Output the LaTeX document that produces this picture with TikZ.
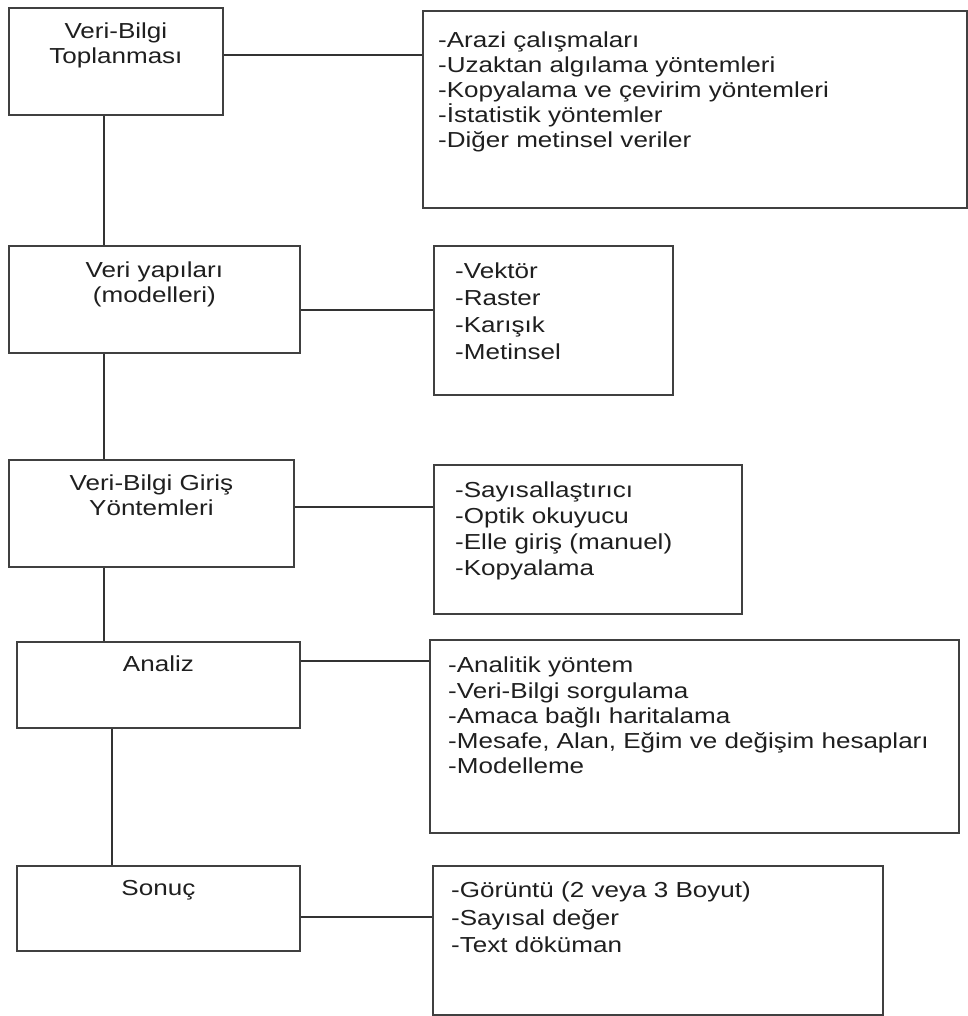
\documentclass[tikz,border=0pt]{standalone}
\usepackage{fontspec}
\setmainfont{Liberation Sans}[FakeStretch=1.2]
\usetikzlibrary{calc}
\usetikzlibrary{positioning}

\begin{document}
\begin{tikzpicture}[x=1pt, y=-1pt,
        kutu/.style={rectangle, draw=black!75, line width=1.8pt, anchor=north west, inner sep=0pt},
        baslik/.style={anchor=north, inner sep=0pt, align=center, text=black!88, font=\fontsize{21.7}{25}\selectfont},
        liste/.style={anchor=north west, inner sep=0pt, align=left, text=black!88, font=\fontsize{21.7}{26}\selectfont},
        cizgi/.style={draw=black!80, line width=1.8pt}]
        \fill[white] (0,0) rectangle (967,1016);
        \useasboundingbox (0,0) rectangle (967,1016);

        % sol kutular
        \node[kutu, minimum width=214pt, minimum height=107pt] (b1) at (8,7) {};
        \node[kutu, minimum width=291pt, minimum height=107pt] (b2) at (8,245) {};
        \node[kutu, minimum width=285pt, minimum height=107pt] (b3) at (8,459) {};
        \node[kutu, minimum width=283pt, minimum height=86pt] (b4) at (16,641) {};
        \node[kutu, minimum width=283pt, minimum height=85pt] (b5) at (16,865) {};

        \node[baslik] (t1) [below=16pt of b1.north] {Veri-Bilgi\\Toplanması};
        \node[baslik] (t2) [below=17pt of b2.north] {Veri yapıları\\(modelleri)};
        \node[baslik] (t3) [below=16pt of b3.north] {Veri-Bilgi Giriş\\Yöntemleri};
        \node[baslik] (t4) [below=15pt of b4.north] {Analiz};
        \node[baslik] (t5) [below=15pt of b5.north] {Sonuç};

        % sag kutular
        \node[kutu, minimum width=544pt, minimum height=197pt] (r1) at (422,10) {};
        \node[kutu, minimum width=239pt, minimum height=149pt] (r2) at (433,245) {};
        \node[kutu, minimum width=308pt, minimum height=149pt] (r3) at (433,464) {};
        \node[kutu, minimum width=529pt, minimum height=193pt] (r4) at (429,639) {};
        \node[kutu, minimum width=450pt, minimum height=149pt] (r5) at (432,865) {};

        \node[liste, font=\fontsize{21.7}{25}\selectfont] (l1) [below right=22pt and 16pt of r1.north west]
            {-Arazi çalışmaları\\-Uzaktan algılama yöntemleri\\-Kopyalama ve çevirim yöntemleri\\-İstatistik yöntemler\\-Diğer metinsel veriler};
        \node[liste, font=\fontsize{21.7}{26.7}\selectfont] (l2) [below right=18pt and 22pt of r2.north west]
            {-Vektör\\-Raster\\-Karışık\\-Metinsel};
        \node[liste] (l3) [below right=18pt and 22pt of r3.north west]
            {-Sayısallaştırıcı\\-Optik okuyucu\\-Elle giriş (manuel)\\-Kopyalama};
        \node[liste, font=\fontsize{21.7}{25.2}\selectfont] (l4) [below right=18pt and 19pt of r4.north west]
            {-Analitik yöntem\\-Veri-Bilgi sorgulama\\-Amaca bağlı haritalama\\-Mesafe, Alan, Eğim ve değişim hesapları\\-Modelleme};
        \node[liste, font=\fontsize{21.7}{27.5}\selectfont] (l5) [below right=17pt and 19pt of r5.north west]
            {-Görüntü (2 veya 3 Boyut)\\-Sayısal değer\\-Text döküman};

        % yatay baglantilar
        \coordinate (c1) at ([yshift=6.5pt]b1.east);
        \coordinate (c2) at ([yshift=-10.5pt]b2.east);
        \coordinate (c3) at ([yshift=6.5pt]b3.east);
        \coordinate (c4) at ([yshift=24pt]b4.east);
        \coordinate (c5) at ([yshift=-8.5pt]b5.east);
        \draw[cizgi] (c1) -- (c1 -| r1.west);
        \draw[cizgi] (c2) -- (c2 -| r2.west);
        \draw[cizgi] (c3) -- (c3 -| r3.west);
        \draw[cizgi] (c4) -- (c4 -| r4.west);
        \draw[cizgi] (c5) -- (c5 -| r5.west);

        % dikey baglantilar
        \coordinate (d1) at ([xshift=-12pt]b1.south);
        \coordinate (d2) at ([xshift=-50.5pt]b2.south);
        \coordinate (d3) at ([xshift=-47.5pt]b3.south);
        \coordinate (d4) at ([xshift=-46.5pt]b4.south);
        \draw[cizgi] (d1) -- (d1 |- b2.north);
        \draw[cizgi] (d2) -- (d2 |- b3.north);
        \draw[cizgi] (d3) -- (d3 |- b4.north);
        \draw[cizgi] (d4) -- (d4 |- b5.north);
    \end{tikzpicture}
\end{document}
